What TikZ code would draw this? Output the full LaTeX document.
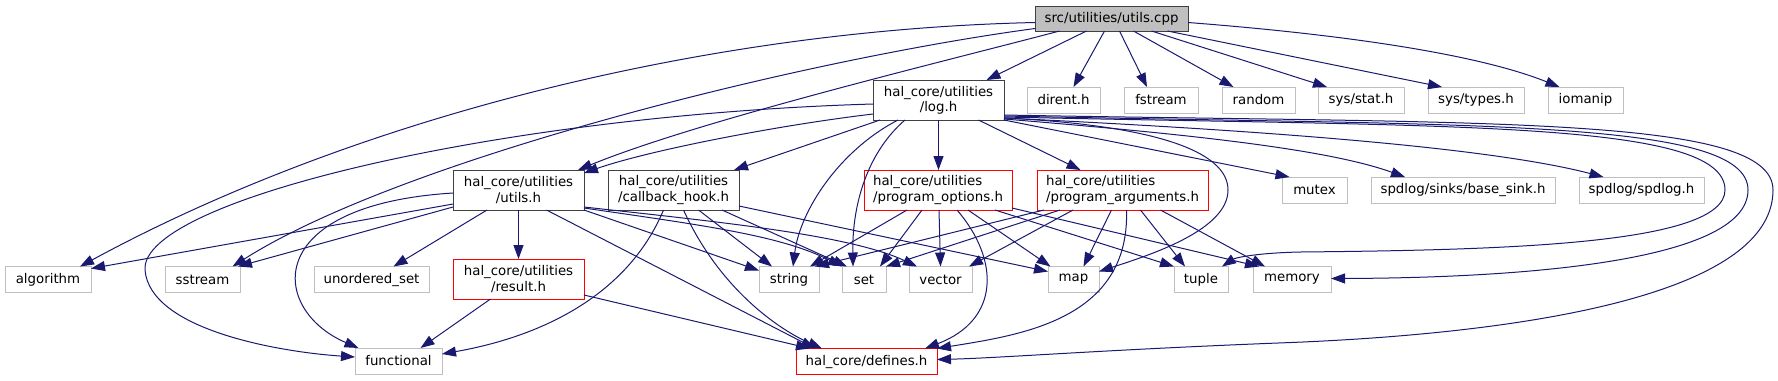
\documentclass[tikz,border=0pt]{standalone}
\usepackage{fontspec}
\setmainfont{DejaVu Sans}
\usetikzlibrary{arrows.meta,calc}
\definecolor{edgecol}{HTML}{191970}
\definecolor{sysgray}{HTML}{BFBFBF}
\definecolor{darkedge}{HTML}{404040}
\definecolor{redcol}{HTML}{FF0000}
\tikzset{
  base/.style={draw, rectangle, inner sep=0pt, outer sep=0pt, line width=0.75pt, fill=white,
    font=\fontsize{10pt}{11.5pt}\selectfont, align=center},
  sysbox/.style={base, draw=sysgray},
  locbox/.style={base, draw=darkedge},
  redbox/.style={base, draw=redcol},
  rootbox/.style={base, draw=darkedge, fill=sysgray},
  dep/.style={draw=edgecol, line width=0.75pt, -{Triangle[length=10.5pt,width=7.5pt]}},
  bw/.style={minimum width=#1*0.75pt},
  bh/.style={minimum height=#1*0.75pt}
}
\begin{document}
\begin{tikzpicture}[x=0.75pt,y=-0.75pt]
\useasboundingbox (0,0) rectangle (1778,380);
% nodes
\node[rootbox,bw=153,bh=25] (root) at (1111.5,18.5) {src/utilities/utils.cpp};
\node[locbox,bw=131,bh=40] (log) at (938.5,100) {hal\_core/utilities\\/log.h};
\node[sysbox,bw=73,bh=26] (dirent) at (1063.5,100) {dirent.h};
\node[sysbox,bw=74,bh=26] (fstream) at (1161,100) {fstream};
\node[sysbox,bw=73,bh=26] (random) at (1258.5,100) {random};
\node[sysbox,bw=86,bh=26] (sysstat) at (1361,100) {sys/stat.h};
\node[sysbox,bw=96,bh=26] (systypes) at (1476,100) {sys/types.h};
\node[sysbox,bw=75,bh=26] (iomanip) at (1585.5,100) {iomanip};
\node[locbox,bw=131,bh=40] (utils) at (518.5,190) {hal\_core/utilities\\/utils.h};
\node[locbox,bw=131,bh=40] (callback) at (673.5,190) {hal\_core/utilities\\/callback\_hook.h};
\node[redbox,bw=148,bh=40,align=left] (progopt) at (938,190) {hal\_core/utilities\\/program\_options.h};
\node[redbox,bw=171,bh=40,align=left] (progarg) at (1122.5,190) {hal\_core/utilities\\/program\_arguments.h};
\node[sysbox,bw=65,bh=26] (mutex) at (1314.5,190) {mutex};
\node[sysbox,bw=184,bh=26] (basesink) at (1463,190) {spdlog/sinks/base\_sink.h};
\node[sysbox,bw=125,bh=26] (spdlog) at (1641.5,190) {spdlog/spdlog.h};
\node[sysbox,bw=86,bh=26] (algorithm) at (48,279.5) {algorithm};
\node[sysbox,bw=75,bh=26] (sstream) at (202.5,279.5) {sstream};
\node[sysbox,bw=115,bh=26] (unordered) at (371.5,279.5) {unordered\_set};
\node[redbox,bw=131,bh=40] (result) at (518.5,279) {hal\_core/utilities\\/result.h};
\node[sysbox,bw=60,bh=26] (string) at (789,279.5) {string};
\node[sysbox,bw=44,bh=26] (set) at (864,279.5) {set};
\node[sysbox,bw=63,bh=26] (vector) at (940.5,279.5) {vector};
\node[sysbox,bw=51,bh=26] (map) at (1073.5,279.5) {map};
\node[sysbox,bw=54,bh=26] (tuple) at (1201,279.5) {tuple};
\node[sysbox,bw=78,bh=26] (memory) at (1292,279.5) {memory};
\node[sysbox,bw=87,bh=26] (functional) at (398.5,361) {functional};
\node[redbox,bw=141,bh=26] (defines) at (866.5,361.5) {hal\_core/defines.h};
% root edges
\draw[dep] ($(root.south)+(-25,0)$) -- ($(log.north)+(48,0)$);
\draw[dep] ($(root.south)+(-7,0)$) -- ($(dirent.north)+(10,0)$);
\draw[dep] ($(root.south)+(8,0)$) -- ($(fstream.north)+(-14,0)$);
\draw[dep] ($(root.south)+(22,0)$) -- ($(random.north)+(-25,0)$);
\draw[dep] ($(root.south)+(40,0)$) -- ($(sysstat.north)+(-34,0)$);
\draw[dep] ($(root.south)+(56,0)$) -- ($(systypes.north)+(-34,0)$);
\draw[dep] ($(root.east)+(0,4)$) .. controls (1350,35) and (1480,55) .. ($(iomanip.north)+(-26,0)$);
\draw[dep] ($(root.west)+(0,4)$) .. controls (700,30) and (350,120) .. ($(algorithm.north)+(32,0)$);
\draw[dep] ($(root.west)+(0,10)$) .. controls (800,60) and (400,160) .. ($(sstream.north)+(30,0)$);
\draw[dep] ($(root.south)+(-52,0)$) .. controls (950,60) and (700,120) .. ($(utils.north east)+(-6,0)$);
% log edges
\draw[dep] (log.south) -- (log.south |- progopt.north);
\draw[dep] ($(log.south)+(40,0)$) -- ($(progarg.north)+(-42,0)$);
\draw[dep] ($(log.south west)+(7,0)$) -- ($(callback.north east)+(-5,0)$);
\draw[dep] ($(log.west)+(0,14)$) .. controls (780,125) and (650,150) .. ($(utils.east)+(0,-17)$);
\draw[dep] ($(log.west)+(0,4)$) .. controls (500,115) and (140,200) .. (145,270) .. controls (150,330) and (280,352) .. ($(functional.west)+(0,-4)$);
\draw[dep] ($(log.south west)+(25,0)$) .. controls (840,150) and (800,210) .. ($(string.north)+(4,0)$);
\draw[dep] ($(log.south west)+(32,0)$) .. controls (870,150) and (852,200) .. ($(set.north)+(-11,0)$);
\draw[dep] ($(log.east)+(0,18)$) .. controls (1150,125) and (1228,150) .. (1228,190) .. controls (1228,230) and (1150,255) .. ($(map.east)+(0,-8)$);
\draw[dep] (log.south east) -- ($(mutex.north)+(-25,0)$);
\draw[dep] ($(log.east)+(0,19)$) .. controls (1200,135) and (1330,150) .. ($(basesink.north)+(-58,0)$);
\draw[dep] ($(log.east)+(0,18)$) .. controls (1300,132) and (1500,150) .. ($(spdlog.north)+(-38,0)$);
\draw[dep] ($(log.east)+(0,17)$) .. controls (1450,127) and (1725,120) .. (1725,190) .. controls (1725,245) and (1500,250) .. (1300,252) .. controls (1255,253) and (1235,258) .. ($(tuple.north east)+(-6,0)$);
\draw[dep] ($(log.east)+(0,16)$) .. controls (1470,126) and (1748,118) .. (1748,190) .. controls (1748,265) and (1500,278) .. ($(memory.east)+(0,-1)$);
\draw[dep] ($(log.east)+(0,15)$) .. controls (1490,124) and (1773,115) .. (1773,190) .. controls (1773,300) and (1500,335) .. (1278,343) .. controls (1100,350) and (1000,358) .. ($(defines.east)+(0,-2)$);
% utils edges
\draw[dep] (utils.south) -- (result.north);
\draw[dep] ($(utils.west)+(0,14)$) -- ($(algorithm.east)+(0,-11)$);
\draw[dep] ($(utils.west)+(0,17)$) -- ($(sstream.north east)+(-2,0)$);
\draw[dep] ($(utils.south west)+(34,0)$) -- ($(unordered.north)+(22,0)$);
\draw[dep] ($(utils.west)+(0,3)$) .. controls (260,205) and (270,310) .. ($(functional.north)+(-40,0)$);
\draw[dep] (utils.south east) -- ($(string.west)+(0,-9)$);
\draw[dep] ($(utils.east)+(0,18)$) .. controls (700,225) and (780,235) .. (set.north west);
\draw[dep] ($(utils.east)+(0,17)$) .. controls (720,222) and (850,235) .. ($(vector.north west)+(8,0)$);
\draw[dep] ($(utils.south)+(28,0)$) -- ($(defines.north west)+(19,0)$);
% callback edges
\draw[dep] ($(callback.south)+(-10,0)$) .. controls (630,290) and (550,335) .. ($(functional.east)+(0,-7)$);
\draw[dep] ($(callback.south)+(10,0)$) .. controls (720,290) and (780,330) .. ($(defines.north west)+(26,0)$);
\draw[dep] ($(callback.south)+(25,0)$) -- ($(string.north)+(-17,0)$);
\draw[dep] ($(callback.south east)+(-17,0)$) -- ($(set.north west)+(5,0)$);
\draw[dep] ($(callback.east)+(0,16)$) -- ($(map.west)+(0,-8)$);
% result edges
\draw[dep] ($(result.south)+(-28,0)$) -- ($(functional.north)+(22,0)$);
\draw[dep] ($(result.east)+(0,16)$) -- ($(defines.north west)+(14,0)$);
% program_options edges
\draw[dep] ($(progopt.south)+(-31,0)$) -- ($(string.north east)+(-9,0)$);
\draw[dep] ($(progopt.south)+(-16,0)$) -- ($(set.north east)+(-6,0)$);
\draw[dep] ($(progopt.south)+(1,0)$) -- (vector.north);
\draw[dep] ($(progopt.south)+(19,0)$) .. controls (1000,260) and (1000,320) .. ($(defines.north east)+(-12,0)$);
\draw[dep] ($(progopt.south)+(30,0)$) -- ($(map.north)+(-23,0)$);
\draw[dep] ($(progopt.south)+(57,0)$) -- (tuple.north west);
\draw[dep] ($(progopt.south east)+(0,-2)$) -- ($(memory.north west)+(6,0)$);
% program_arguments edges
\draw[dep] ($(progarg.south west)+(7,0)$) -- ($(string.north east)+(-4,0)$);
\draw[dep] ($(progarg.south west)+(23,0)$) -- (set.north east);
\draw[dep] ($(progarg.south west)+(36,0)$) -- ($(vector.north east)+(-3,0)$);
\draw[dep] ($(progarg.south)+(-11,0)$) -- ($(map.north)+(10,0)$);
\draw[dep] ($(progarg.south)+(18,0)$) -- ($(tuple.north)+(-16,0)$);
\draw[dep] ($(progarg.south)+(38,0)$) -- ($(memory.north west)+(12,0)$);
\draw[dep] ($(progarg.south)+(4,0)$) .. controls (1130,320) and (1020,335) .. (defines.north east);
\end{tikzpicture}
\end{document}
